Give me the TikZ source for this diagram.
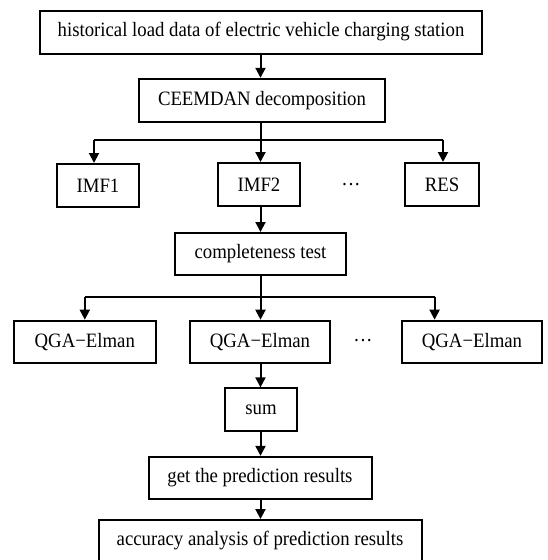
\documentclass[tikz,border=0pt]{standalone}
\usepackage{fontspec}
\setmainfont{Liberation Serif}
\newfontfamily\lblfont[FakeStretch=0.92]{Liberation Serif}
\usetikzlibrary{arrows.meta,calc}
\begin{document}
\begin{tikzpicture}[x=1pt,y=-1pt,
  box/.style={draw, line width=2pt, inner sep=0pt, font=\lblfont\fontsize{20.4}{23}\selectfont},
  dotsnode/.style={inner sep=0pt, anchor=base, font=\lblfont\fontsize{21}{23}\selectfont},
  ln/.style={line width=2pt},
  arr/.style={line width=2pt, -{Triangle[width=10pt,length=10pt]}}]
\useasboundingbox (0,0) rectangle (548,560);
\clip (0,0) rectangle (548,560);
\fill[white] (0,0) rectangle (548,560);
% nodes
\node[box, minimum width=442pt, minimum height=43pt] (top) at (261,32) {historical load data of electric vehicle charging station};
\node[box, minimum width=246pt, minimum height=43pt] (ceem) at (262,100.3) {CEEMDAN decomposition};
\node[box, minimum width=82.5pt, minimum height=43pt] (imf1) at (98,185.5) {IMF1};
\node[box, minimum width=82.5pt, minimum height=43pt] (imf2) at (259,184.5) {IMF2};
\node[box, minimum width=74.5pt, minimum height=43pt] (res) at (442,184.5) {RES};
\node[dotsnode] (dots1) at (351,191) {···};
\node[box, minimum width=171pt, minimum height=42pt] (comp) at (260.5,254) {completeness test};
\node[box, minimum width=141.6pt, minimum height=42.6pt] (q1) at (84.8,342) {QGA−Elman};
\node[box, minimum width=140pt, minimum height=42.6pt] (q2) at (260,342) {QGA−Elman};
\node[box, minimum width=140pt, minimum height=42.6pt] (q3) at (472,342) {QGA−Elman};
\node[dotsnode] (dots2) at (363,347) {···};
\node[box, minimum width=72pt, minimum height=42.7pt] (sum) at (261,409.7) {sum};
\node[box, minimum width=223pt, minimum height=42.3pt] (get) at (260,478) {get the prediction results};
\node[box, minimum width=323pt, minimum height=42pt] (acc) at (260,541) {accuracy analysis of prediction results};
% axis / entry coordinates
\coordinate (ax) at (260.5,0);
\coordinate (i1in) at ($(imf1.north)+(-4,0)$);
\coordinate (i3in) at ($(res.north)+(1,0)$);
\coordinate (b1) at (260.5,140);
\coordinate (b2) at (260.5,296.7);
\coordinate (q1in) at (q1.north);
\coordinate (q3in) at ($(q3.north)+(-37.4,0)$);
% connectors
\draw[arr] (top.south -| ax) -- (ceem.north -| ax);
\draw[ln] (ceem.south -| ax) -- (b1);
\draw[ln] (b1 -| i1in) -- (b1 -| i3in);
\draw[arr] (b1 -| i1in) -- (i1in);
\draw[arr] (b1) -- (imf2.north -| ax);
\draw[arr] (b1 -| i3in) -- (i3in);
\draw[arr] (imf2.south -| ax) -- (comp.north -| ax);
\draw[ln] (comp.south -| ax) -- (b2);
\draw[ln] (b2 -| q1in) -- (b2 -| q3in);
\draw[arr] (b2 -| q1in) -- (q1in);
\draw[arr] (b2) -- (q2.north -| ax);
\draw[arr] (b2 -| q3in) -- (q3in);
\draw[arr] (q2.south -| ax) -- (sum.north -| ax);
\draw[arr] (sum.south -| ax) -- (get.north -| ax);
\draw[arr] (get.south -| ax) -- (acc.north -| ax);
\end{tikzpicture}
\end{document}
